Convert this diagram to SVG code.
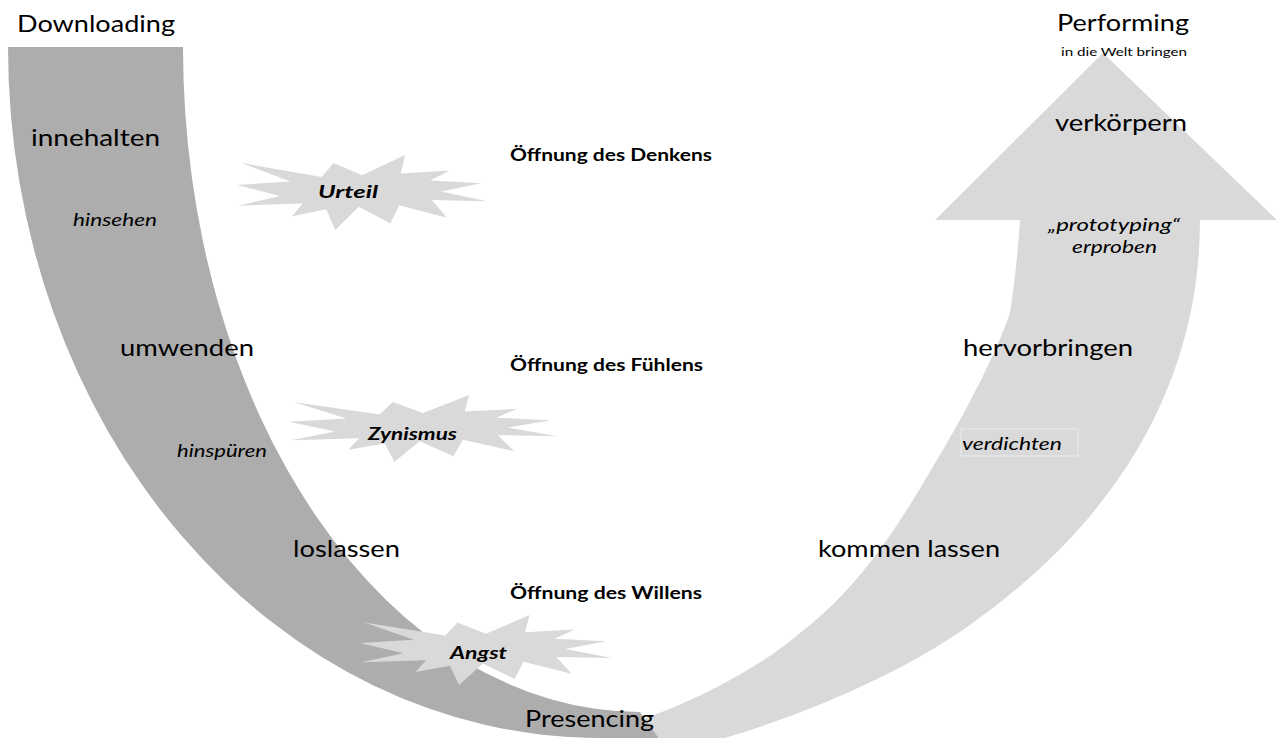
<svg xmlns="http://www.w3.org/2000/svg" xmlns:xlink="http://www.w3.org/1999/xlink" width="1277" height="738" viewBox="0 0 1277 738">
  <style>
    text { font-family: Lato, "Open Sans", "Liberation Sans", sans-serif; fill: #000; }
    .big { font-size: 23.5px; }
    .it { font-size: 16.5px; font-style: italic; }
    .bd { font-size: 16.5px; font-weight: bold; }
    .bi { font-size: 16.5px; font-weight: bold; font-style: italic; }
    .sm { font-size: 11px; }
    .star { fill: #d9d9d9; }
  </style>
  <defs>
    <!-- irregular 24-point explosion, unit box 100 x 100 -->
    <path id="burst" d="M50,26.85 L67.23,0 65.53,24.65 85.1,20.64 77.32,33.86 97.67,37.67 81.51,48.5 100,61.53 77.95,59.92 84,83.77 64.91,66.93 61.33,91.37 48.76,69.14 39.28,100 35.72,72.35 22.05,81.56 26.24,64.52 0.63,67.53 17.23,54.51 0,39.88 21.42,35.26 1.71,10.63 33.85,29.26 38.67,10.63 Z"/>
  </defs>
  <rect width="1277" height="738" fill="#fff"/>

  <g id="connectors">
    <!-- rising band with arrowhead (its lower end runs under the descending band) -->
    <path id="band-up" fill="#d9d9d9" d="M560,745 L600,732 C680,712 760,668 800,633 C850,595 885,545 913,500 C950,440 990,370 1010,313 C1015,280 1018,250 1020,220 L935,220 L1103,53 L1277,220 L1200,220 C1200,380 1120,520 967,627 C900,674 800,718 700,745 Z"/>
    <!-- descending band: two elliptical edges -->
    <path id="band-down" fill="#adadad" d="M8,47 L183,47 A457,665 0 0 0 640,712 L660,740 L600,740 L600,738 A592,691 0 0 1 8,47 Z"/>
  </g>

  <g id="downloading">
    <text class="big" x="17" y="32" textLength="158" lengthAdjust="spacingAndGlyphs">Downloading</text>
  </g>
  <g id="innehalten">
    <text class="big" x="31" y="146" textLength="129" lengthAdjust="spacingAndGlyphs">innehalten</text>
    <text class="it" x="73" y="226" textLength="84" lengthAdjust="spacingAndGlyphs">hinsehen</text>
  </g>
  <g id="umwenden">
    <text class="big" x="120" y="356" textLength="134" lengthAdjust="spacingAndGlyphs">umwenden</text>
    <text class="it" x="177" y="457" textLength="90" lengthAdjust="spacingAndGlyphs">hinspüren</text>
  </g>
  <g id="loslassen">
    <text class="big" x="293" y="557" textLength="107" lengthAdjust="spacingAndGlyphs">loslassen</text>
  </g>

  <g id="urteil">
    <use href="#burst" xlink:href="#burst" class="star" transform="translate(237,155) scale(2.5,0.75)"/>
    <text class="bi" x="318" y="198" textLength="60" lengthAdjust="spacingAndGlyphs">Urteil</text>
  </g>
  <g id="zynismus">
    <use href="#burst" xlink:href="#burst" class="star" transform="translate(289,395) scale(2.68,0.67)"/>
    <text class="bi" x="368" y="440" textLength="89" lengthAdjust="spacingAndGlyphs">Zynismus</text>
  </g>
  <g id="angst">
    <use href="#burst" xlink:href="#burst" class="star" transform="translate(360,615) scale(2.52,0.70)"/>
    <text class="bi" x="450" y="659" textLength="57" lengthAdjust="spacingAndGlyphs">Angst</text>
  </g>

  <g id="oeffnung-denken">
    <text class="bd" x="510" y="161" textLength="202" lengthAdjust="spacingAndGlyphs">Öffnung des Denkens</text>
  </g>
  <g id="oeffnung-fuehlen">
    <text class="bd" x="510" y="371" textLength="193" lengthAdjust="spacingAndGlyphs">Öffnung des Fühlens</text>
  </g>
  <g id="oeffnung-willen">
    <text class="bd" x="510" y="599" textLength="192" lengthAdjust="spacingAndGlyphs">Öffnung des Willens</text>
  </g>

  <g id="presencing">
    <text class="big" x="525" y="727" textLength="129" lengthAdjust="spacingAndGlyphs">Presencing</text>
  </g>

  <g id="kommen-lassen">
    <text class="big" x="818" y="557" textLength="182" lengthAdjust="spacingAndGlyphs">kommen lassen</text>
  </g>
  <g id="verdichten">
    <rect x="961" y="429" width="117" height="27" fill="none" stroke="#ececec" stroke-width="1"/>
    <text class="it" x="962" y="450" textLength="100" lengthAdjust="spacingAndGlyphs">verdichten</text>
  </g>
  <g id="hervorbringen">
    <text class="big" x="963" y="356" textLength="170" lengthAdjust="spacingAndGlyphs">hervorbringen</text>
  </g>
  <g id="erproben">
    <text class="it" x="1048" y="231" textLength="132" lengthAdjust="spacingAndGlyphs">„prototyping“</text>
    <text class="it" x="1072" y="253" textLength="85" lengthAdjust="spacingAndGlyphs">erproben</text>
  </g>
  <g id="verkoerpern">
    <text class="big" x="1055" y="131" textLength="132" lengthAdjust="spacingAndGlyphs">verkörpern</text>
  </g>
  <g id="performing">
    <text class="big" x="1057" y="31" textLength="132" lengthAdjust="spacingAndGlyphs">Performing</text>
    <text class="sm" x="1061" y="56" textLength="126" lengthAdjust="spacingAndGlyphs">in die Welt bringen</text>
  </g>
</svg>
